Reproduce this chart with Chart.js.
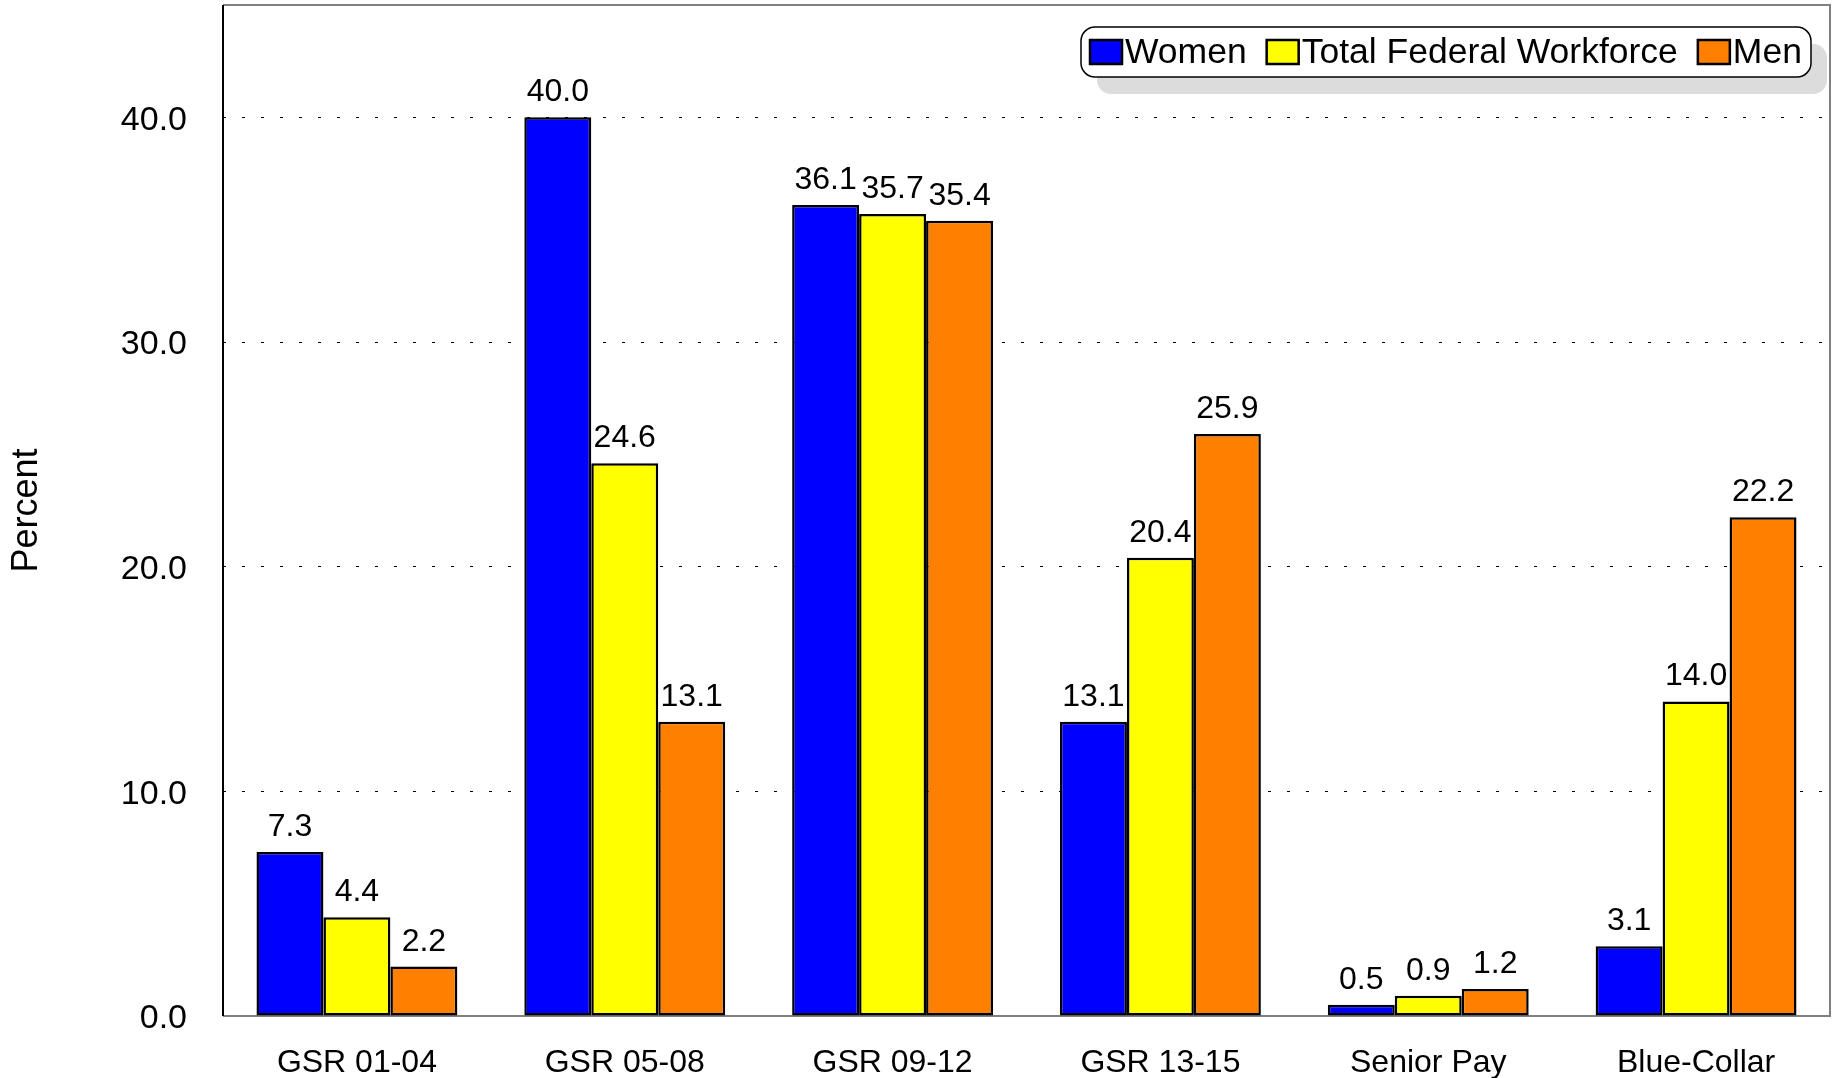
<!DOCTYPE html>
<html>
<head>
<meta charset="utf-8">
<script src="https://cdn.jsdelivr.net/npm/chart.js@4.4.1/dist/chart.umd.min.js"></script>
<style>
  html, body { margin: 0; padding: 0; background: #fff; }
  canvas { display: block; }
</style>
</head>
<body>
<canvas id="myChart" width="1836" height="1078"></canvas>
<script>
// Категории по X оста
const categories = ['GSR 01-04', 'GSR 05-08', 'GSR 09-12', 'GSR 13-15', 'Senior Pay', 'Blue-Collar'];
// Стойности за трите серии (в проценти)
const women = [7.3, 40.0, 36.1, 13.1, 0.5, 3.1];
const totalWorkforce = [4.4, 24.6, 35.7, 20.4, 0.9, 14.0];
const men = [2.2, 13.1, 35.4, 25.9, 1.2, 22.2];
// Деленията по Y оста
const yTicks = [0, 10, 20, 30, 40];

const FONT = '"Liberation Sans", Arial, sans-serif';

// Рисуваме рамката на графиката: лява ос в черно, останалите страни в сиво
const framePlugin = {
    id: 'frame',
    beforeDatasetsDraw(chart) {
        const { ctx, chartArea: a } = chart;
        ctx.save();
        ctx.strokeStyle = '#808080';
        ctx.lineWidth = 2;
        ctx.beginPath();
        ctx.moveTo(a.left, a.top);
        ctx.lineTo(a.right, a.top);
        ctx.lineTo(a.right, a.bottom);
        ctx.lineTo(a.left, a.bottom);
        ctx.stroke();
        ctx.strokeStyle = '#000';
        ctx.beginPath();
        ctx.moveTo(a.left, a.top);
        ctx.lineTo(a.left, a.bottom);
        ctx.stroke();
        ctx.restore();
    }
};

// Стойностите над всяка колона
const valueLabels = {
    id: 'valueLabels',
    afterDatasetsDraw(chart) {
        const { ctx } = chart;
        ctx.save();
        ctx.font = '32px ' + FONT;
        ctx.fillStyle = '#000';
        ctx.textAlign = 'center';
        ctx.textBaseline = 'alphabetic';
        chart.data.datasets.forEach((ds, i) => {
            chart.getDatasetMeta(i).data.forEach((bar, j) => {
                ctx.fillText(ds.data[j].toFixed(1), bar.x, bar.y - 16);
            });
        });
        ctx.restore();
    }
};

// Легенда със заоблена рамка и сянка
const boxLegend = {
    id: 'boxLegend',
    afterDraw(chart) {
        const { ctx } = chart;
        const x = 1081, y = 27, w = 730, h = 50, r = 14;
        ctx.save();
        ctx.fillStyle = '#dcdcdc';
        ctx.beginPath();
        ctx.roundRect(x + 16, y + 17, w, h, r);
        ctx.fill();
        ctx.fillStyle = '#fff';
        ctx.strokeStyle = '#000';
        ctx.lineWidth = 1.5;
        ctx.beginPath();
        ctx.roundRect(x, y, w, h, r);
        ctx.fill();
        ctx.stroke();

        ctx.font = '35.5px ' + FONT;
        ctx.textBaseline = 'middle';
        ctx.textAlign = 'left';
        let cx = x + 9;
        const cy = y + h / 2;
        chart.data.datasets.forEach(ds => {
            ctx.fillStyle = ds.backgroundColor;
            ctx.fillRect(cx, cy - 12, 32, 24);
            ctx.lineWidth = 2.5;
            ctx.strokeStyle = '#000';
            ctx.strokeRect(cx, cy - 12, 32, 24);
            ctx.fillStyle = '#000';
            ctx.fillText(ds.label, cx + 35, cy + 1);
            cx += 35 + ctx.measureText(ds.label).width + 20;
        });
        ctx.restore();
    }
};

function makeDataset(label, data, color) {
    return {
        label: label,
        data: data,
        backgroundColor: color,
        borderColor: '#000',
        borderWidth: 2.5,
        borderSkipped: false,
        categoryPercentage: 0.75,
        barPercentage: 1.0
    };
}

new Chart(document.getElementById('myChart'), {
    type: 'bar',
    data: {
        labels: categories,
        datasets: [
            makeDataset('Women', women, '#0000ff'),
            makeDataset('Total Federal Workforce', totalWorkforce, '#ffff00'),
            makeDataset('Men', men, '#ff8000')
        ]
    },
    options: {
        responsive: false,
        animation: false,
        devicePixelRatio: 1,
        layout: { padding: { top: 5, right: 6, left: 0, bottom: 0 } },
        plugins: {
            legend: { display: false },
            tooltip: { enabled: false }
        },
        scales: {
            x: {
                grid: { display: false, drawTicks: false },
                border: { display: false },
                ticks: {
                    color: '#000',
                    padding: 28,
                    font: { family: FONT, size: 32 }
                },
                afterFit(scale) {
                    scale.height = 62;
                    scale.paddingLeft = 0;
                    scale.paddingRight = 0;
                }
            },
            y: {
                min: 0,
                max: 45,
                afterBuildTicks(scale) {
                    scale.ticks = yTicks.map(v => ({ value: v }));
                },
                grid: {
                    color: ctx => ctx.tick && ctx.tick.value === 0 ? 'rgba(0,0,0,0)' : '#000',
                    lineWidth: 1,
                    drawTicks: false
                },
                border: { display: false, dash: [3, 16] },
                ticks: {
                    color: '#000',
                    padding: 36,
                    labelOffset: 3,
                    font: { family: FONT, size: 34 },
                    callback: v => Number(v).toFixed(1)
                },
                title: {
                    display: true,
                    text: 'Percent',
                    color: '#000',
                    padding: { top: 5, bottom: 0 },
                    font: { family: FONT, size: 36 }
                },
                afterFit(scale) {
                    scale.width = 223;
                    scale.paddingTop = 0;
                    scale.paddingBottom = 0;
                }
            }
        }
    },
    plugins: [framePlugin, valueLabels, boxLegend]
});
</script>
</body>
</html>
